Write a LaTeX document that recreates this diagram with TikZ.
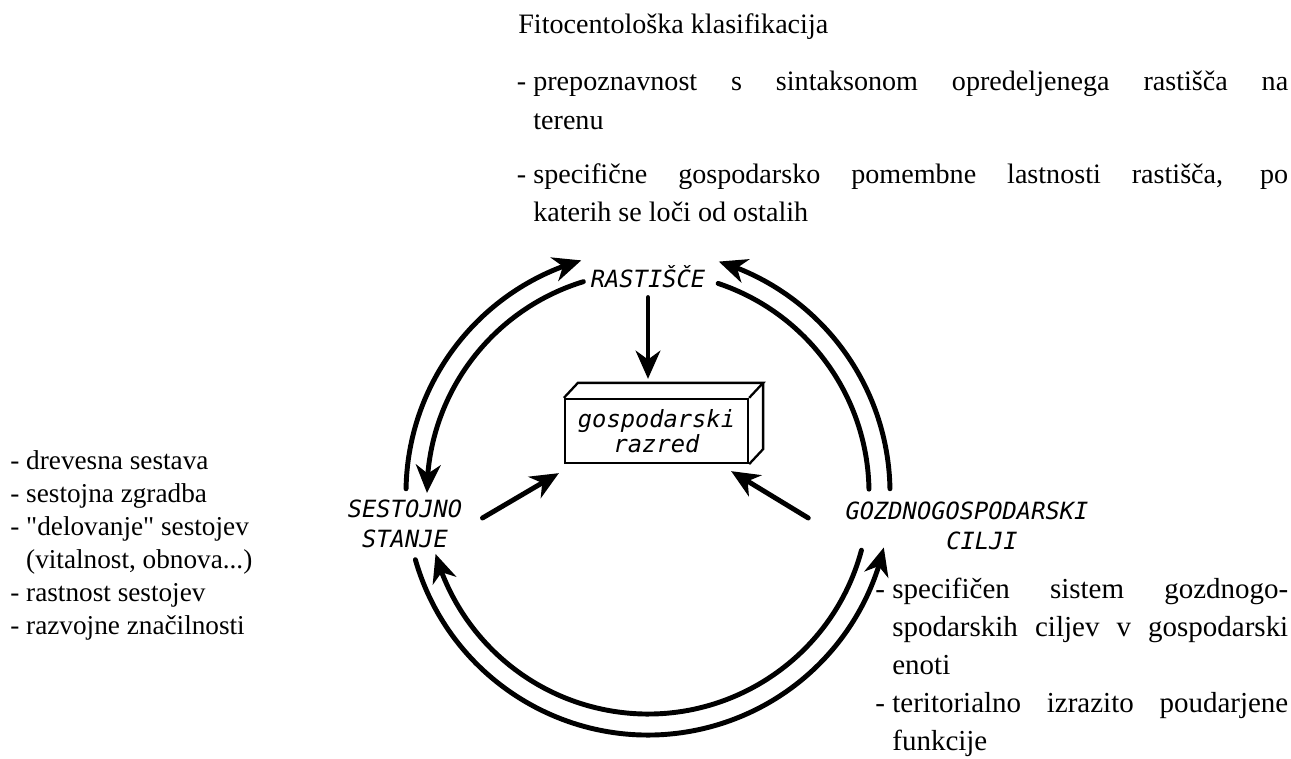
\documentclass[tikz,border=0pt]{standalone}
\usepackage{fontspec}
\setmainfont{Liberation Serif}
\newfontfamily\labfont{DejaVu Sans Mono}
\usetikzlibrary{arrows.meta,bending}

\begin{document}
\begin{tikzpicture}[x=0.02cm, y=0.02cm,
    ring/.style={line width=2.8pt, line cap=round},
    arr/.style={ring, -{Stealth[length=16pt,width=14pt,inset=5pt]}},
    lab/.style={font=\labfont\itshape\fontsize{13.5}{17}\selectfont, inner sep=0pt, align=center},
    txt/.style={font=\fontsize{16}{22}\selectfont, inner sep=0pt}]
    \useasboundingbox (0,0) rectangle (1291,758);

    \node[lab] (rast) at (648,481) {RASTIŠČE};
    \node[lab] (sest) at (405,234) {SESTOJNO\\STANJE};
    \node[lab] (cilj) at (967,232) {GOZDNOGOSPODARSKI\\\hspace*{0.6cm}CILJI};
    \node[lab, draw, line width=1.3pt, minimum width=3.66cm, minimum height=1.28cm,
        font=\labfont\itshape\fontsize{13.5}{12}\selectfont] (box) at (656.5,327) {gospodarski\\razred};
    \draw[line width=1.3pt] (box.north west) -- ++(14,15) -- ([shift={(14,15)}]box.north east) -- (box.north east);
    \draw[line width=1.3pt] ([shift={(14,15)}]box.north east) -- ([shift={(14,15)}]box.south east) -- (box.south east);

    \coordinate (c) at (648,265);
    \draw[arr] ([shift={(179:242)}]c) arc[start angle=179, end angle=106, radius=242];
    \draw[arr] ([shift={(107:221)}]c) arc[start angle=107, end angle=180, radius=221];
    \draw[arr] ([shift={(1:242)}]c) arc[start angle=1, end angle=73, radius=242];
    \draw[ring] ([shift={(71.5:221)}]c) arc[start angle=71.5, end angle=1, radius=221];
    \draw[arr] ([shift={(196:242)}]c) arc[start angle=196, end angle=347, radius=242];
    \draw[arr] ([shift={(345:221)}]c) arc[start angle=345, end angle=196, radius=221];

    \draw[arr] ([yshift=-0.18cm]rast.south) -- ([yshift=0.38cm]rast.south |- box.north);
    \draw[arr] ([shift={(20,6)}]sest.east) -- ([shift={(-5,-9)}]box.south west);
    \draw[arr] ([shift={(-37,8)}]cilj.west) -- ([shift={(-18,-7)}]box.south east);

    % texts round the cycle
    \node[txt, anchor=base west] (head) at (518,724) {Fitocentološka klasifikacija};
    \node[txt, text width=15.1cm, align=justify, anchor=north west] (fito) at (533,687) {%
        \leavevmode\llap{- }prepoznavnost s sintaksonom opredeljenega rastišča na\linebreak terenu\par\vspace{0.3cm}
        \leavevmode\llap{- }specifične gospodarsko pomembne lastnosti rastišča, po\linebreak katerih se loči od ostalih};
    \node[txt, font=\fontsize{15.5}{18.8}\selectfont, align=left, anchor=north west] (stan) at (10,308) {%
        - drevesna sestava\\
        - sestojna zgradba\\
        - \textquotedbl delovanje\textquotedbl{} sestojev\\
        \phantom{- }(vitalnost, obnova...)\\
        - rastnost sestojev\\
        - razvojne značilnosti};
    \node[txt, font=\fontsize{16.5}{21.6}\selectfont, text width=7.92cm, align=justify, anchor=north west] (cilji) at (892,180) {%
        \leavevmode\llap{- }specifičen sistem gozdnogo-\linebreak spodarskih ciljev v gospodarski\linebreak enoti\par
        \leavevmode\llap{- }teritorialno izrazito poudarjene\linebreak funkcije};
\end{tikzpicture}
\end{document}
